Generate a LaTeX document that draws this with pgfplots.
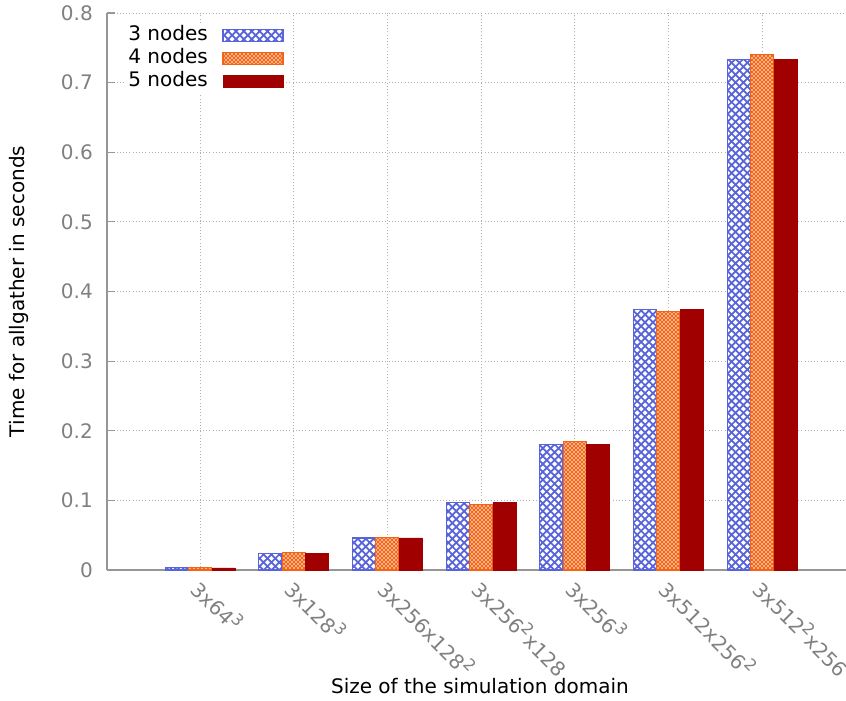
\documentclass[border=0pt]{standalone}
\usepackage{fontspec}
\setmainfont{DejaVu Sans}
\usepackage{pgfplots}
\pgfplotsset{compat=1.18}
\usetikzlibrary{patterns}

\definecolor{barblue}{RGB}{88,100,218}
\definecolor{barorange}{RGB}{245,100,20}
\definecolor{barred}{RGB}{160,0,0}
\definecolor{ticktext}{RGB}{128,128,128}
\definecolor{axisgray}{RGB}{150,150,150}
\definecolor{gridgray}{RGB}{175,175,175}

% raised exponent in tick labels
\newcommand{\expo}[1]{\raisebox{0.42em}{\fontsize{12}{12}\selectfont #1}}

% coarse diamond lattice
\pgfdeclarepatternformonly{coarsecross}{\pgfqpoint{-0.9pt}{-0.9pt}}{\pgfqpoint{6.8pt}{6.8pt}}{\pgfqpoint{5.9pt}{5.9pt}}{
  \pgfsetlinewidth{1.3pt}
  \pgfpathmoveto{\pgfqpoint{-0.45pt}{-0.45pt}}\pgfpathlineto{\pgfqpoint{6.35pt}{6.35pt}}
  \pgfpathmoveto{\pgfqpoint{-0.45pt}{6.35pt}}\pgfpathlineto{\pgfqpoint{6.35pt}{-0.45pt}}
  \pgfusepath{stroke}}
% fine diamond lattice
\pgfdeclarepatternformonly{finecross}{\pgfqpoint{-0.6pt}{-0.6pt}}{\pgfqpoint{3.6pt}{3.6pt}}{\pgfqpoint{3.0pt}{3.0pt}}{
  \pgfsetlinewidth{0.85pt}
  \pgfpathmoveto{\pgfqpoint{-0.3pt}{-0.3pt}}\pgfpathlineto{\pgfqpoint{3.3pt}{3.3pt}}
  \pgfpathmoveto{\pgfqpoint{-0.3pt}{3.3pt}}\pgfpathlineto{\pgfqpoint{3.3pt}{-0.3pt}}
  \pgfusepath{stroke}}

% allgather times (s) per domain size: index 0..6
\pgfplotstableread{
x  t
0  0.003
1  0.024
2  0.046
3  0.097
4  0.180
5  0.374
6  0.733
}\threenodes
\pgfplotstableread{
x  t
0  0.004
1  0.025
2  0.047
3  0.094
4  0.184
5  0.371
6  0.741
}\fournodes
\pgfplotstableread{
x  t
0  0.003
1  0.024
2  0.046
3  0.097
4  0.180
5  0.374
6  0.733
}\fivenodes

\begin{document}
\begin{tikzpicture}
\begin{axis}[
  at={(0pt,0pt)}, anchor=south west,
  scale only axis,
  width=554.25pt, height=417.75pt,
  font=\fontsize{15}{18}\selectfont,
  xmin=-0.993, xmax=6.897,
  ymin=0, ymax=0.8,
  ytick={0,0.1,...,0.8},
  yticklabels={0,0.1,0.2,0.3,0.4,0.5,0.6,0.7,0.8},
  xtick={0,...,6},
  xticklabels={3x64\expo{3},3x128\expo{3},3x256x128\expo{2},3x256\expo{2}x128,3x256\expo{3},3x512x256\expo{2},3x512\expo{2}x256},
  axis x line*=bottom, axis y line*=left,
  axis line style={axisgray, line width=0.8pt},
  tick align=inside,
  major tick length=6pt,
  tick style={axisgray, line width=0.8pt},
  xtick style={draw=none},
  grid=major,
  major grid style={gridgray, line width=0.7pt, dash pattern=on 0.8pt off 1.6pt},
  yticklabel style={text=ticktext, inner sep=0pt, anchor=east, xshift=-10.5pt},
  xticklabel style={text=ticktext, inner sep=0pt, xshift=3pt, yshift=-5pt, rotate=-45, anchor=north west},
  every axis y label/.style={at={(rel axis cs:0,0.5)}, xshift=-66pt, rotate=90, anchor=center},
  every axis x label/.style={at={(rel axis cs:0.5,0)}, xshift=2.6pt, yshift=-87pt, anchor=center},
  ylabel={Time for allgather in seconds},
  xlabel={Size of the simulation domain},
  bar width=0.2455,
  legend plot pos=right,
  legend cell align=right,
  legend image code/.code={\draw[#1] (0pt,-4.5pt) rectangle (45pt,4.5pt);},
  legend style={at={(rel axis cs:0.025,0.983)}, anchor=north west, draw=none, fill=white,
    inner xsep=2pt, inner ysep=2pt, row sep=2.75pt, column sep=11pt,
    nodes={inner sep=0pt, text height=11pt, text depth=3.5pt},
    font=\fontsize{15}{18}\selectfont},
]
\addplot[ybar, bar shift=-0.25, draw=barblue, line width=0.8pt, fill=white,
  postaction={pattern=coarsecross, pattern color=barblue}] table[x=x,y=t] {\threenodes};
\addlegendentry{3 nodes}
\addplot[ybar, bar shift=0, draw=barorange, line width=0.8pt, fill=white,
  postaction={pattern=finecross, pattern color=barorange}] table[x=x,y=t] {\fournodes};
\addlegendentry{4 nodes}
\addplot[ybar, bar shift=0.25, draw=barred, line width=0.4pt, fill=barred] table[x=x,y=t] {\fivenodes};
\addlegendentry{5 nodes}
\end{axis}
\pgfresetboundingbox
\path[use as bounding box] (-80.25pt,-97.5pt) rectangle (554.25pt,427.5pt);
\end{tikzpicture}
\end{document}
